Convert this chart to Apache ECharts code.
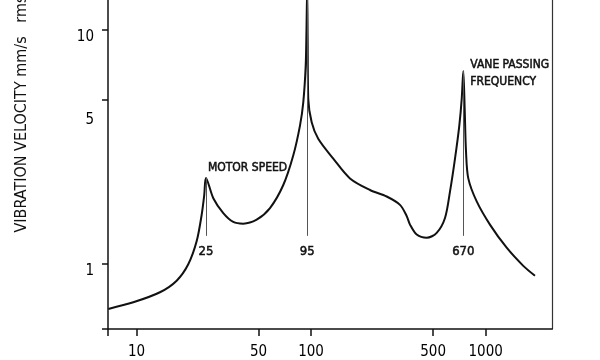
<!DOCTYPE html>
<html>
<head>
<meta charset="utf-8">
<script src="https://cdn.jsdelivr.net/npm/echarts@6/dist/echarts.min.js"></script>
<style>
html,body{margin:0;padding:0;background:#fff;}
#chart{width:600px;height:360px;}
</style>
</head>
<body>
<div id="chart"></div>
<script>
// ---- data ----
const freqHz = [6.90, 9.59, 13.63, 16.99, 19.80, 22.13, 23.63, 24.45, 25, 27.54, 31.42, 35.85, 40.89, 48.80, 58.17, 69.32, 79.11, 86.39, 90.23, 93.13, 94.13, 95, 95.6, 96.38, 100.8, 109.9, 134.0, 167.1, 217.5, 271.0, 323.0, 352.7, 368.6, 402.6, 459.3, 524.1, 584.8, 624.6, 667.3, 706.3, 728.9, 744.5, 758.2, 771.6, 795.2, 888.3, 1058, 1319, 1642, 1916];
const velocity = [0.641, 0.684, 0.755, 0.846, 0.994, 1.249, 1.619, 1.967, 2.326, 1.905, 1.646, 1.508, 1.483, 1.542, 1.728, 2.169, 2.906, 3.892, 4.890, 6.985, 9.99, 15, 9.0, 5.050, 4.022, 3.420, 2.813, 2.315, 2.065, 1.937, 1.784, 1.600, 1.469, 1.332, 1.290, 1.354, 1.568, 2.033, 2.813, 3.892, 5.050, 6.653, 4.580, 3.013, 2.315, 1.845, 1.469, 1.170, 0.979, 0.888];

const xTickValues = [10, 50, 100, 500, 1000];
const yTickValues = [1, 5, 10];
const xRange = [6.87, 2398];
const yRange = [0.526, 13.39];

const markerFreq = [25, 95, 744.5];
const markerLabels = ['25', '95', '670'];
const markerBase = 1.315;
const markerTop = [2.326, 13.39, 6.653];

const motorText = 'MOTOR SPEED';
const vaneText = 'VANE PASSING\nFREQUENCY';
const yAxisTitle = 'VIBRATION VELOCITY mm/s   rms';

// ---- build ----
const L = Math.log10;
const FONT = "'Liberation Sans Narrow', 'DejaVu Sans Condensed', sans-serif";
const seriesData = freqHz.map((f, i) => [L(f), L(velocity[i])]);
const fmt = v => String(Math.round(Math.pow(10, v)));
const fmtY = v => {
  const s = fmt(v);
  return s === '5' ? '{f|' + s + '}' : s;
};
const annoStyle = {color: '#111', fontFamily: FONT, fontSize: 12, textBorderColor: '#111', textBorderWidth: 0.5};

const chart = echarts.init(document.getElementById('chart'), null, {renderer: 'canvas'});
const option = {
  animation: false,
  backgroundColor: '#fff',
  grid: {left: 108, right: 48, top: 0, bottom: 28},
  xAxis: {
    type: 'value',
    min: L(xRange[0]), max: L(xRange[1]),
    splitLine: {show: false},
    axisLine: {show: true, onZero: false, lineStyle: {color: '#111', width: 1.5}},
    axisTick: {show: true, length: 7, lineStyle: {color: '#111', width: 1.5},
      customValues: [L(xRange[0])].concat(xTickValues.map(L))},
    axisLabel: {customValues: xTickValues.map(L), formatter: fmt, color: '#000',
      fontFamily: FONT, fontSize: 15, margin: 16}
  },
  yAxis: [{
    type: 'value',
    min: L(yRange[0]), max: L(yRange[1]),
    splitLine: {show: false},
    axisLine: {show: true, onZero: false, lineStyle: {color: '#111', width: 1.5}},
    axisTick: {show: true, length: 6, lineStyle: {color: '#111', width: 1.5},
      customValues: [L(yRange[0])].concat(yTickValues.map(L))},
    axisLabel: {customValues: yTickValues.map(L), formatter: fmtY, color: '#000',
      fontFamily: FONT, fontSize: 15, margin: 14, verticalAlign: 'top',
      rich: {f: {fontFamily: FONT, fontSize: 15, color: '#000', lineHeight: 40}}}
  }, {
    type: 'value', position: 'right',
    min: L(yRange[0]), max: L(yRange[1]),
    splitLine: {show: false},
    axisLine: {show: true, onZero: false, lineStyle: {color: '#333', width: 1.2}},
    axisTick: {show: false}, axisLabel: {show: false}
  }],
  graphic: [{
    type: 'text', x: 22, y: 114, rotation: Math.PI / 2,
    style: {text: yAxisTitle, fill: '#111', font: '16px ' + FONT, align: 'center', verticalAlign: 'middle'}
  }],
  series: [{
    type: 'line',
    data: seriesData,
    showSymbol: false,
    smooth: 0.3,
    clip: true,
    lineStyle: {color: '#111', width: 2},
    markLine: {
      silent: true, symbol: ['none', 'none'], animation: false,
      lineStyle: {color: '#555', width: 1, type: 'solid'},
      label: Object.assign({show: true, position: 'start', formatter: '{b}', distance: 9}, annoStyle, {fontSize: 13}),
      data: markerFreq.map((f, i) => [
        {name: markerLabels[i], coord: [L(f), L(markerBase)]},
        {coord: [L(f), L(markerTop[i])]}
      ])
    },
    markPoint: {
      silent: true, symbol: 'circle', symbolSize: 0,
      data: [
        {coord: [L(markerFreq[0]), L(markerTop[0])], value: 0,
          label: Object.assign({show: true, formatter: motorText, position: [2, -10], align: 'left', verticalAlign: 'middle'}, annoStyle)},
        {coord: [L(markerFreq[2]), L(markerTop[2])], value: 0,
          label: Object.assign({show: true, formatter: vaneText, position: [7, -15], align: 'left', verticalAlign: 'top', lineHeight: 17}, annoStyle)}
      ]
    }
  }]
};
chart.setOption(option);
</script>
</body>
</html>
